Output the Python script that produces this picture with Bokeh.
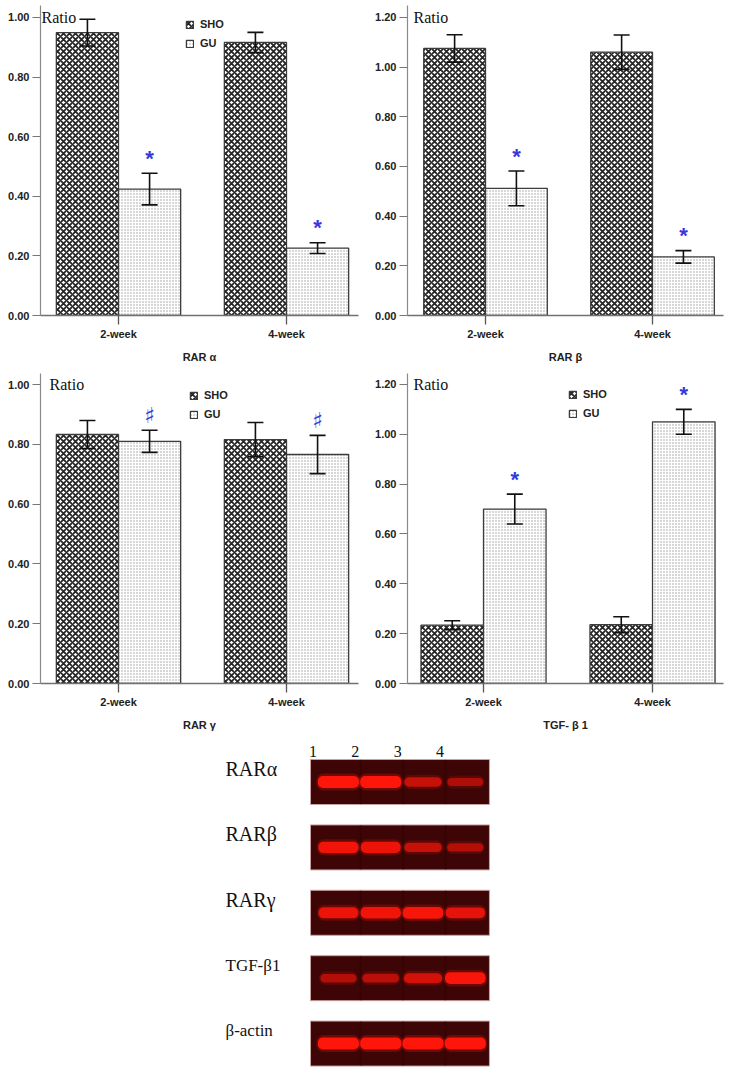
from bokeh.plotting import figure
from bokeh.layouts import column, row
from bokeh.models import (ColumnDataSource, Range1d, FixedTicker, Whisker, TeeHead,
                          Legend, LegendItem, Label, PrintfTickFormatter)
from bokeh.core.properties import value
from bokeh.embed import file_html
from bokeh.resources import INLINE

# ---------------- data ----------------
weeks = ["2-week", "4-week"]
groups = ["SHO", "GU"]

rar_a_sho = [0.949, 0.916]
rar_a_sho_err = [0.045, 0.034]
rar_a_gu = [0.424, 0.226]
rar_a_gu_err = [0.053, 0.018]
rar_a_sig = ["*", "*"]

rar_b_sho = [1.075, 1.06]
rar_b_sho_err = [0.055, 0.069]
rar_b_gu = [0.512, 0.236]
rar_b_gu_err = [0.070, 0.025]
rar_b_sig = ["*", "*"]

rar_g_sho = [0.833, 0.816]
rar_g_sho_err = [0.047, 0.057]
rar_g_gu = [0.810, 0.766]
rar_g_gu_err = [0.037, 0.064]
rar_g_sig = ["\u266f", "\u266f"]

tgf_sho = [0.234, 0.236]
tgf_sho_err = [0.018, 0.032]
tgf_gu = [0.700, 1.050]
tgf_gu_err = [0.060, 0.050]
tgf_sig = ["*", "*"]

ticks_10 = [0.0, 0.2, 0.4, 0.6, 0.8, 1.0]
ticks_12 = [0.0, 0.2, 0.4, 0.6, 0.8, 1.0, 1.2]

# gel (band intensity 0..1 per lane)
lanes = [1, 2, 3, 4]
lane_labels = ["1", "2", "3", "4"]
gel_rows = ["RAR\u03b1", "RAR\u03b2", "RAR\u03b3", "TGF-\u03b21", "\u03b2-actin"]
gel_rar_a = [1.00, 1.00, 0.55, 0.35]
gel_rar_b = [0.90, 0.85, 0.55, 0.40]
gel_rar_g = [0.85, 0.90, 0.95, 0.80]
gel_tgf = [0.40, 0.45, 0.65, 0.95]
gel_actin = [1.00, 1.00, 1.00, 1.00]

# ---------------- styles ----------------
TICK_FONT = "Liberation Sans"
SERIF = "Liberation Serif"
BLUE = "#3838dc"


def bar_chart(sho, sho_err, gu, gu_err, sig, title, yticks, x_start, x_end, y_end,
              width, height, bl, br, bt, bb, legend_loc, ratio_dx):
    p = figure(width=width, height=height, x_range=Range1d(x_start, x_end),
               y_range=Range1d(0, y_end), output_backend="svg", toolbar_location=None,
               min_border_left=bl, min_border_right=br, min_border_top=bt,
               min_border_bottom=bb)
    p.xgrid.visible = False
    p.ygrid.visible = False
    p.outline_line_color = None

    xs = [i + 0.5 for i in range(len(weeks))]
    bw = 0.37
    s_sho = ColumnDataSource(dict(
        x=[x - bw / 2 for x in xs], top=sho,
        lo=[v - e for v, e in zip(sho, sho_err)], hi=[v + e for v, e in zip(sho, sho_err)]))
    s_gu = ColumnDataSource(dict(
        x=[x + bw / 2 for x in xs], top=gu,
        lo=[v - e for v, e in zip(gu, gu_err)], hi=[v + e for v, e in zip(gu, gu_err)]))

    r1 = p.vbar(x="x", top="top", width=bw, source=s_sho, fill_color="white",
                hatch_pattern="diagonal_cross", hatch_color="#262626", hatch_scale=6,
                hatch_weight=1.8, line_color="#3c3c3c", line_width=1.3)
    r2 = p.vbar(x="x", top="top", width=bw, source=s_gu, fill_color="white",
                hatch_pattern="dot", hatch_color="#9a9a9a", hatch_scale=3,
                hatch_weight=1.0, line_color="#3c3c3c", line_width=1.3)

    for s in (s_sho, s_gu):
        w = Whisker(base="x", upper="hi", lower="lo", source=s, level="annotation",
                    line_color="#111111", line_width=1.6,
                    upper_head=TeeHead(size=16, line_width=1.6, line_color="#111111"),
                    lower_head=TeeHead(size=16, line_width=1.6, line_color="#111111"))
        p.add_layout(w)

    pad = 0.05 * yticks[-1]
    sig_y = [v + e + pad for v, e in zip(gu, gu_err)]
    if sig[0] == "*":
        p.text(x=[x + bw / 2 for x in xs], y=sig_y, text=sig, text_color=BLUE,
               text_font=value(TICK_FONT), text_font_size="22px", text_font_style="bold",
               text_align="center", text_baseline="middle")
    else:
        p.text(x=[x + bw / 2 for x in xs], y=sig_y, text=sig, text_color=BLUE,
               text_font=value("DejaVu Sans"), text_font_size="22px",
               text_align="center", text_baseline="middle")

    # axes
    p.xaxis.ticker = FixedTicker(ticks=xs)
    p.xaxis.major_label_overrides = {x: w for x, w in zip(xs, weeks)}
    p.xaxis.axis_label = title
    p.xaxis.axis_label_text_font = TICK_FONT
    p.xaxis.axis_label_text_font_size = "11px"
    p.xaxis.axis_label_text_font_style = "bold"
    p.xaxis.axis_label_text_color = "#222222"
    p.xaxis.axis_label_standoff = 8
    p.xaxis.major_tick_out = 9
    p.xaxis.major_tick_in = 0
    p.xaxis.minor_tick_line_color = None
    p.xaxis.major_label_standoff = 3
    p.xaxis.axis_line_color = "#707070"
    p.xaxis.axis_line_width = 1.3
    p.xaxis.major_tick_line_color = "#555555"
    p.xaxis.major_tick_line_width = 1.3

    p.yaxis.ticker = FixedTicker(ticks=yticks)
    p.yaxis.formatter = PrintfTickFormatter(format="%.2f")
    p.yaxis.major_tick_out = 8
    p.yaxis.major_tick_in = 0
    p.yaxis.minor_tick_line_color = None
    p.yaxis.major_label_standoff = 3
    p.yaxis.axis_line_color = "#8a8a8a"
    p.yaxis.axis_line_width = 1.2
    p.yaxis.major_tick_line_color = "#777777"
    p.yaxis.major_tick_line_width = 1.2

    for ax in (p.xaxis, p.yaxis):
        ax.major_label_text_font = TICK_FONT
        ax.major_label_text_font_size = "11px"
        ax.major_label_text_font_style = "bold"
        ax.major_label_text_color = "#222222"

    p.add_layout(Label(x=x_start, y=yticks[-1], x_offset=ratio_dx, text="Ratio",
                       text_font=SERIF, text_font_size="16px", text_color="#111111",
                       text_baseline="middle"))

    if legend_loc is not None:
        lg = Legend(items=[LegendItem(label=groups[0], renderers=[r1]),
                           LegendItem(label=groups[1], renderers=[r2])],
                    location=legend_loc, background_fill_alpha=0, border_line_color=None,
                    padding=0, margin=0, spacing=5, label_height=14, glyph_height=9,
                    glyph_width=9, label_standoff=6, label_text_font=TICK_FONT,
                    label_text_font_size="11px", label_text_font_style="bold",
                    label_text_color="#222222")
        p.add_layout(lg)
    return p


pA = bar_chart(rar_a_sho, rar_a_sho_err, rar_a_gu, rar_a_gu_err, rar_a_sig, "RAR \u03b1",
               ticks_10, 0.0357, 1.9286, 1.040, 365, 366, 40, 7, 5, 51, (145, 265), 1)
pB = bar_chart(rar_b_sho, rar_b_sho_err, rar_b_gu, rar_b_gu_err, rar_b_sig, "RAR \u03b2",
               ticks_12, 0.0329, 1.925, 1.248, 365, 366, 42, 7, 5, 51, None, 6)
pC = bar_chart(rar_g_sho, rar_g_sho_err, rar_g_gu, rar_g_gu_err, rar_g_sig, "RAR \u03b3",
               ticks_10, 0.0357, 1.9286, 1.037, 365, 367, 40, 7, 7, 49, (149, 262), 9)
pD = bar_chart(tgf_sho, tgf_sho_err, tgf_gu, tgf_gu_err, tgf_sig, "TGF- \u03b2 1",
               ticks_12, 0.0503, 1.920, 1.244, 365, 367, 42, 7, 7, 49, (161, 263), 6)

# ---------------- gel ----------------
g = figure(width=730, height=338, x_range=Range1d(-6.99, 10.27),
           y_range=Range1d(4.427, -0.742), output_backend="svg", toolbar_location=None,
           x_axis_location=None, y_axis_location=None, min_border=0)
g.grid.visible = False
g.outline_line_color = None

rows_idx = list(range(len(gel_rows)))
panel_left = lanes[0] - 0.66
panel_right = lanes[-1] + 0.57
g.rect(x=(panel_left + panel_right) / 2, y=rows_idx, width=panel_right - panel_left,
       height=0.688, fill_color="#3d0505", line_color="#c9a2a2", line_width=1)
# lane separators
sep_x, sep_y0, sep_y1 = [], [], []
for r in rows_idx:
    for l in lanes[:-1]:
        sep_x.append(l + 0.53)
        sep_y0.append(r - 0.34)
        sep_y1.append(r + 0.34)
g.segment(x0=sep_x, x1=sep_x, y0=sep_y0, y1=sep_y1, line_color="#2a0000", line_width=2,
          line_alpha=0.35)

intensities = [gel_rar_a, gel_rar_b, gel_rar_g, gel_tgf, gel_actin]
bg = (61, 5, 5)
red = (255, 22, 10)
bx, by, bcol, bwid, bhei = [], [], [], [], []
for r, vals in enumerate(intensities):
    for l, v in zip(lanes, vals):
        c = tuple(int(bg[k] + (red[k] - bg[k]) * (0.35 + 0.65 * v)) for k in range(3))
        bx.append(l)
        by.append(r)
        bcol.append("#%02x%02x%02x" % c)
        bwid.append(33 + 8 * v)
        bhei.append(6 + 6 * v)
bsrc = ColumnDataSource(dict(x=bx, y=by, c=bcol, w=bwid, h=bhei,
                             gw=[w + 3 for w in bwid], gh=[h + 5 for h in bhei]))
g.rect(x="x", y="y", width="gw", height="gh", width_units="screen", height_units="screen",
       fill_color="c", fill_alpha=0.25, line_color=None, border_radius=7, source=bsrc)
g.rect(x="x", y="y", width="w", height="h", width_units="screen", height_units="screen",
       fill_color="c", line_color=None, border_radius=5, source=bsrc)

g.text(x=[l - 0.6 for l in lanes], y=-0.466, text=lane_labels, text_font=value(SERIF),
       text_font_size="16px", text_color="#111111", text_align="center",
       text_baseline="middle")
lsrc = ColumnDataSource(dict(y=[r - 0.2 for r in rows_idx], t=gel_rows,
                             fs=["20px", "20px", "20px", "17px", "17px"]))
g.text(x=-1.67, y="y", text="t", text_font=value(SERIF), text_font_size="fs",
       text_color="#111111", text_align="left", text_baseline="middle", source=lsrc)

layout = column(row(pA, pB), row(pC, pD), g)
open("out.html", "w").write(file_html(layout, INLINE))
